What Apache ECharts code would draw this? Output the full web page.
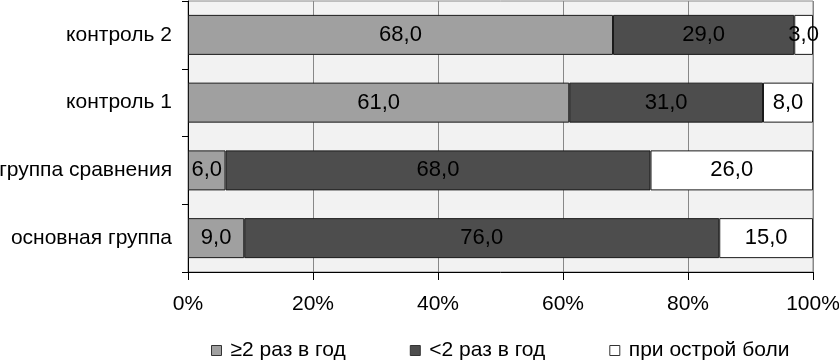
<!DOCTYPE html>
<html>
<head>
<meta charset="utf-8">
<script src="https://cdn.jsdelivr.net/npm/echarts@6/dist/echarts.min.js"></script>
<style>
html, body { margin: 0; padding: 0; background: #fff; }
#chart { width: 839px; height: 363px; }
</style>
</head>
<body>
<div id="chart"></div>
<script>
var groups = ['контроль 2', 'контроль 1', 'группа сравнения', 'основная группа'];
var seriesNames = ['≥2 раз в год', '<2 раз в год', 'при острой боли'];
var often = [68, 61, 6, 9];
var rare = [29, 31, 68, 76];
var acute = [3, 8, 26, 15];
var colors = ['#a0a0a0', '#4d4d4d', '#ffffff'];

var font = 'Liberation Sans, Arial, sans-serif';

function mk(name, data, color) {
	return {
		name: name,
		type: 'bar',
		stack: 'all',
		barWidth: 40,
		data: data,
		itemStyle: { color: color, borderColor: '#1a1a1a', borderWidth: 1 },
		label: {
			show: true,
			position: 'inside',
			color: '#000',
			fontFamily: font,
			fontSize: 22,
			formatter: function(p) { return p.value.toFixed(1).replace('.', ','); }
		}
	};
}

var chart = echarts.init(document.getElementById('chart'));
chart.setOption({
	animation: false,
	textStyle: { fontFamily: font },
	grid: {
		left: 188, right: 26, top: 1, bottom: 91,
		outerBoundsMode: 'none',
		containLabel: false,
		show: true, backgroundColor: '#f2f2f2', borderColor: '#888', borderWidth: 1
	},
	legend: {
		bottom: 2,
		left: 211,
		padding: 0,
		itemWidth: 10,
		itemHeight: 10,
		itemGap: 64,
		icon: 'rect',
		textStyle: { fontSize: 21, color: '#000', fontFamily: font, padding: [0, 0, 0, 4] },
		data: seriesNames.map(function(n) {
			return { name: n, itemStyle: { borderColor: '#333', borderWidth: 1 } };
		})
	},
	xAxis: {
		type: 'value',
		min: 0, max: 100, interval: 20,
		axisLine: { show: true, lineStyle: { color: '#000' } },
		axisTick: { show: true, length: 8, lineStyle: { color: '#000' } },
		splitLine: { show: true, lineStyle: { color: '#888' } },
		axisLabel: { formatter: '{value}%', fontSize: 21, color: '#000', margin: 22 }
	},
	yAxis: {
		type: 'category',
		inverse: true,
		data: groups,
		axisLine: { show: true, lineStyle: { color: '#000' } },
		axisTick: { show: true, length: 6, lineStyle: { color: '#000' } },
		axisLabel: { fontSize: 21, color: '#000', margin: 16 }
	},
	series: [
		mk(seriesNames[0], often, colors[0]),
		mk(seriesNames[1], rare, colors[1]),
		mk(seriesNames[2], acute, colors[2])
	]
});
</script>
</body>
</html>
